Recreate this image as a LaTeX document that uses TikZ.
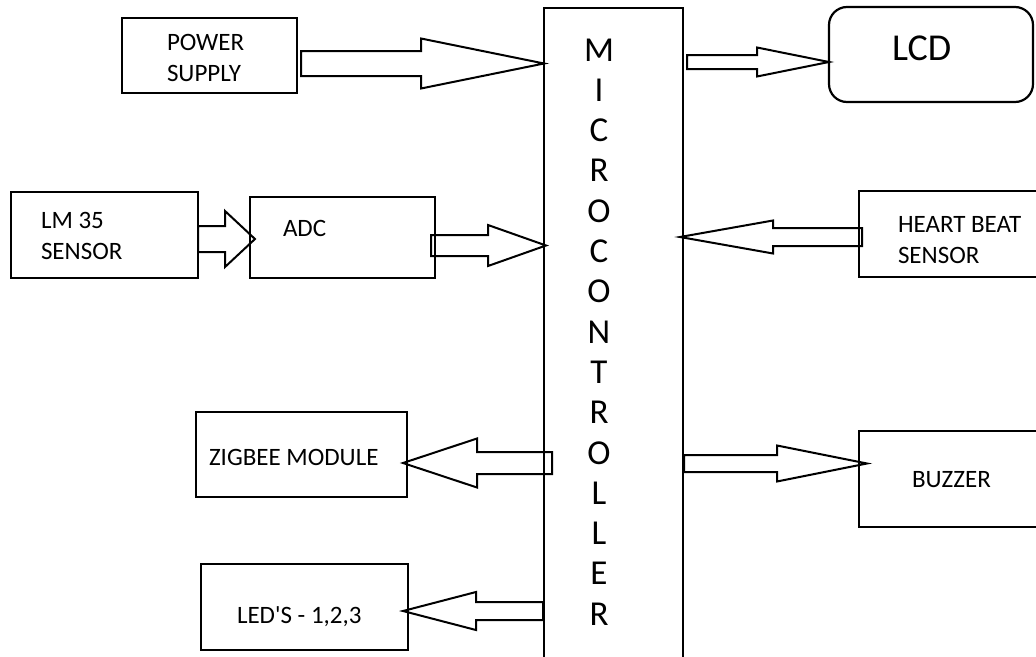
\documentclass[tikz,border=0pt]{standalone}
\usepackage{fontspec}
\setmainfont{Carlito}
\usetikzlibrary{calc}

\tikzset{
  shaftw/.store in=\shaftw,
  headw/.store in=\headw,
  headl/.store in=\headl,
  shaftw=10pt, headw=20pt, headl=60pt
}

\begin{document}
\begin{tikzpicture}[
    x=1pt, y=-1pt,
    blk/.style={rectangle,draw,line width=2.2pt,inner ysep=0pt,outer sep=0pt,
      anchor=north west,align=flush left,font=\fontsize{25}{31}\selectfont},
    mcubox/.style={rectangle,draw,line width=2.2pt,inner sep=0pt,outer sep=0pt,
      anchor=north west,font=\fontsize{35}{40.3}\selectfont},
    fat/.style={draw,line width=2pt,to path={
      let \p1=(\tikztostart), \p2=(\tikztotarget),
          \n1={\x2-(\x2-\x1)/abs(\x2-\x1)*\headl} in
      (\x1,\y1+\shaftw) -- (\n1,\y1+\shaftw) -- (\n1,\y1+\headw)
      -- (\x2,\y1) -- (\n1,\y1-\headw) -- (\n1,\y1-\shaftw)
      -- (\x1,\y1-\shaftw) -- cycle}}
  ]
    \useasboundingbox (0,0) rectangle (1036,656);

    \node[mcubox,minimum width=139pt,minimum height=660pt,text height=53pt,text depth=607pt]
      (mcu) at (544,8)
      {\begin{tabular}[t]{@{}c@{\hspace{29pt}}}M\\I\\C\\R\\O\\C\\O\\N\\T\\R\\O\\L\\L\\E\\R\end{tabular}};

    \node[blk,text width=85pt,inner xsep=45pt,minimum height=75pt,text height=20pt,text depth=31pt]
      (pwr) at (122,18) {POWER\\SUPPLY};
    \node[blk,text width=127pt,inner xsep=30pt,minimum height=86pt,text height=20pt,text depth=34pt]
      (lm) at (11,192) {LM 35\\SENSOR};
    \node[blk,text width=119pt,inner xsep=33pt,minimum height=81pt,text height=20pt,text depth=23pt]
      (adc) at (250,197) {ADC};
    \node[blk,rounded corners=18pt,font=\fontsize{38}{45}\selectfont,text width=78pt,inner xsep=63pt,
      minimum height=95pt,text height=30pt,text depth=19pt]
      (lcd) at (829,7) {LCD};
    \node[blk,text width=132pt,inner xsep=39pt,minimum height=86pt,text height=20pt,text depth=24pt]
      (hb) at (859,191) {HEART BEAT\\SENSOR};
    \node[blk,text width=185pt,inner xsep=13pt,minimum height=85pt,text height=30pt,text depth=9pt]
      (zig) at (196,412) {ZIGBEE MODULE};
    \node[blk,text width=135pt,inner xsep=36pt,minimum height=86pt,text height=40pt,text depth=7pt]
      (led) at (201,564) {LED\textquotesingle S - 1,2,3};
    \node[blk,text width=94pt,inner xsep=53pt,minimum height=96pt,text height=25pt,text depth=9pt]
      (buz) at (859,431) {BUZZER};

    \draw[fat,shaftw=12.5pt,headw=25pt,headl=123pt] ($(pwr.east)+(4,8)$) to (mcu.west);
    \draw[fat,shaftw=13pt,headw=28pt,headl=30pt] ($(lm.east)+(0,4)$) to ([xshift=5pt]adc.west);
    \draw[fat,shaftw=10.5pt,headw=20.5pt,headl=58pt] ($(adc.east)+(-4,8)$) to ([xshift=2pt]mcu.west);
    \draw[fat,shaftw=7pt,headw=14.5pt,headl=72pt] ($(mcu.east |- lcd.west)+(4,7.5)$) to (lcd.west);
    \draw[fat,shaftw=9pt,headw=16.5pt,headl=93pt] ($(hb.west)+(3,3)$) to ([xshift=-3pt]mcu.east);
    \draw[fat,shaftw=11pt,headw=24.5pt,headl=74pt] ($(mcu.west |- zig.east)+(8,8.5)$) to ([xshift=-4pt]zig.east);
    \draw[fat,shaftw=9pt,headw=19pt,headl=73pt] ($(mcu.west |- led.east)+(-1,4)$) to ([xshift=-5pt]led.east);
    \draw[fat,shaftw=8.5pt,headw=18pt,headl=90pt] ($(mcu.east |- buz.west)+(1,-15.5)$) to ([xshift=8pt]buz.west);
  \end{tikzpicture}
\end{document}
